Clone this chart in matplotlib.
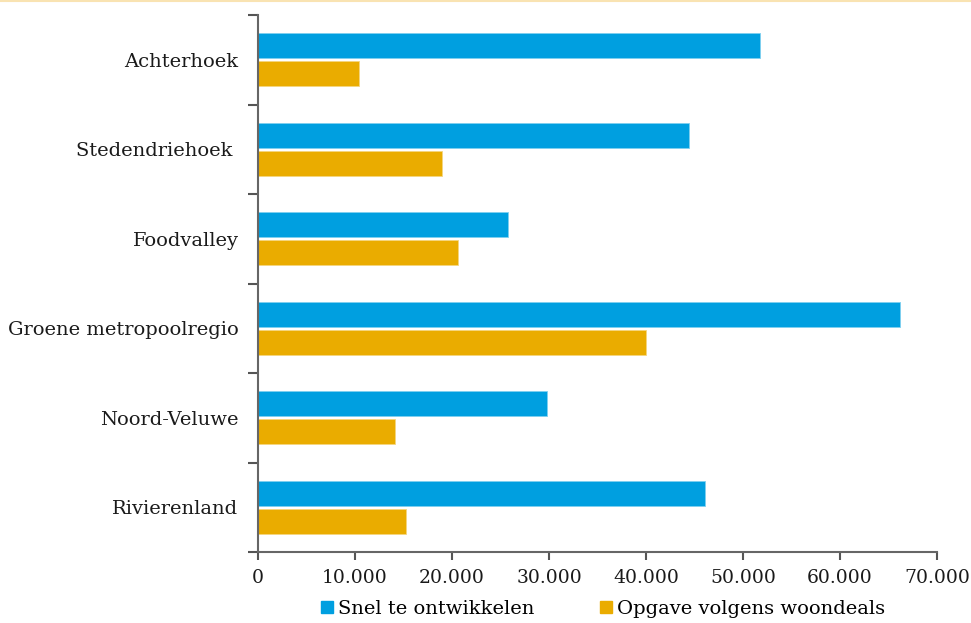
import matplotlib
matplotlib.use("Agg")
import matplotlib.pyplot as plt
import numpy as np
from matplotlib.ticker import FuncFormatter, FixedLocator
from matplotlib.lines import Line2D
from matplotlib.patches import Patch

categories = ["Achterhoek", "Stedendriehoek ", "Foodvalley", "Groene metropoolregio", "Noord-Veluwe", "Rivierenland"]
snel = [51800, 44400, 25800, 66200, 29800, 46100]
opgave = [10400, 19000, 20600, 40000, 14100, 15300]
series_names = ["Snel te ontwikkelen", "Opgave volgens woondeals"]
colors = ["#009FE0", "#EAAC00"]

plt.rcParams['font.family'] = ['DejaVu Serif']

fig = plt.figure(figsize=(9.71, 6.23), dpi=100)
ax = fig.add_axes([258/971, 1-552/623, (937-258)/971, (552-15)/623])

y = np.arange(len(categories))
h = 0.28
gap = 0.015
ax.barh(y - h/2 - gap, snel, height=h, color=colors[0], edgecolor="#7FD0F0", linewidth=0.6, label=series_names[0])
ax.barh(y + h/2 + gap, opgave, height=h, color=colors[1], edgecolor="#F5D580", linewidth=0.6, label=series_names[1])

ax.set_ylim(len(categories) - 0.5, -0.5)
ax.set_xlim(0, 70000)
ax.set_yticks(y)
ax.set_yticklabels(categories, fontsize=14, color="#1a1a1a")
ax.yaxis.set_minor_locator(FixedLocator(np.arange(-0.5, len(categories), 1.0)))
ax.tick_params(axis='y', which='major', length=0, pad=14)
ax.tick_params(axis='y', which='minor', length=7, width=1.5, color="#555555")
ax.set_xticks(np.arange(0, 70001, 10000))
ax.xaxis.set_major_formatter(FuncFormatter(lambda v, p: f"{int(v):,}".replace(",", ".")))
ax.tick_params(axis='x', length=6, width=1.5, color="#555555", labelsize=13.5, labelcolor="#1a1a1a", pad=6)

for s in ["top", "right"]:
    ax.spines[s].set_visible(False)
for s in ["left", "bottom"]:
    ax.spines[s].set_color("#666666")
    ax.spines[s].set_linewidth(1.5)

handles = [Patch(color=colors[0]), Patch(color=colors[1])]
fig.legend(handles, series_names, loc="center", bbox_to_anchor=(603/971, 1-609/623), ncol=2,
           frameon=False, fontsize=14, handlelength=0.6, handleheight=0.6, handletextpad=0.25,
           columnspacing=3.4, borderaxespad=0)

fig.add_artist(Line2D([0, 1], [1-0.8/623, 1-0.8/623], color="#F9E3B2", linewidth=1.5, transform=fig.transFigure))

fig.savefig("out.png", dpi=100)
